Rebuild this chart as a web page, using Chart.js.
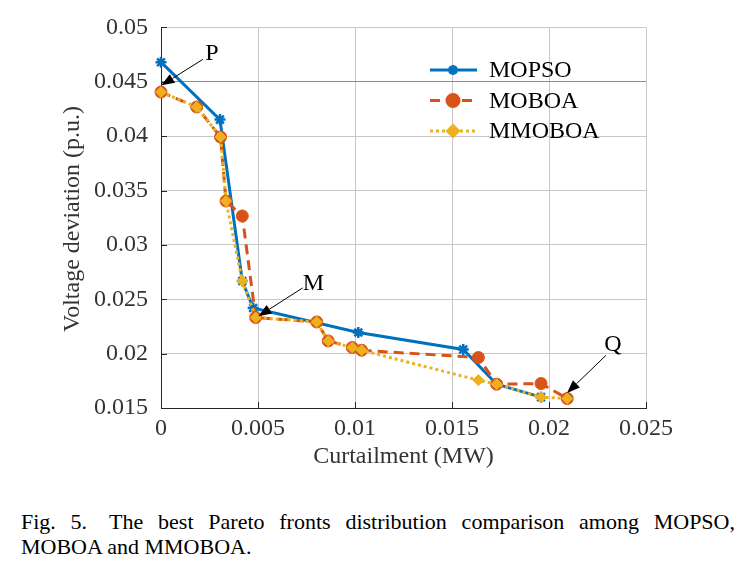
<!DOCTYPE html>
<html>
<head>
<meta charset="utf-8">
<script src="https://cdn.jsdelivr.net/npm/chart.js@4.4.0/dist/chart.umd.min.js"></script>
<style>
  html, body { margin: 0; padding: 0; background: #fff; }
  #wrap { position: relative; width: 745px; height: 480px; }
  #caption {
    position: absolute; left: 21px; top: 509px; width: 714px;
    font-family: 'Liberation Serif', 'Times New Roman', serif;
    font-size: 22px; line-height: 25px; color: #000;
  }
  #caption .l1 { text-align: justify; text-align-last: justify; white-space: nowrap; }
</style>
</head>
<body>
<div id="wrap"><canvas id="paretoChart"></canvas></div>
<div id="caption">
  <div class="l1">Fig. 5.&emsp;The best Pareto fronts distribution comparison among MOPSO,</div>
  <div>MOBOA and MMOBOA.</div>
</div>
<script>
// Axis ticks
const xTicks = [0, 0.005, 0.01, 0.015, 0.02, 0.025];
const yTicks = [0.015, 0.02, 0.025, 0.03, 0.035, 0.04, 0.045, 0.05];

// Pareto fronts (curtailment MW, voltage deviation p.u.)
const mopsoX = [0, 0.00304, 0.00419, 0.00475, 0.01017, 0.01558, 0.0173, 0.01959];
const mopsoY = [0.0468, 0.04152, 0.02668, 0.0242, 0.02194, 0.02038, 0.01719, 0.0160];

const moboaX = [0, 0.00184, 0.00307, 0.00335, 0.00419, 0.00488, 0.00803, 0.00862, 0.00986, 0.01034, 0.01636, 0.0173, 0.01959, 0.02094];
const moboaY = [0.04405, 0.04268, 0.03992, 0.03403, 0.03266, 0.02332, 0.02291, 0.02117, 0.02056, 0.02031, 0.01964, 0.01719, 0.01725, 0.01587];

const mmoboaX = [0, 0.00184, 0.00307, 0.00335, 0.00419, 0.00488, 0.00803, 0.00862, 0.00986, 0.01034, 0.01636, 0.0173, 0.01959, 0.02094];
const mmoboaY = [0.04405, 0.04268, 0.03992, 0.03403, 0.02668, 0.02332, 0.02291, 0.02117, 0.02056, 0.02031, 0.01756, 0.01719, 0.0160, 0.01587];

// Annotated points: label, text pos, arrow tail, arrow tip (data units)
const markLabels = ['P', 'M', 'Q'];
const markText = [[0.00263, 0.04761], [0.00786, 0.02647], [0.0233, 0.02086]];
const markTail = [[0.00216, 0.04706], [0.0073, 0.02604], [0.02294, 0.01985]];
const markTip = [[0.00002, 0.04467], [0.00502, 0.02344], [0.02093, 0.01639]];

const SERIF = "'Liberation Serif', 'Times New Roman', serif";
const BLUE = '#0072BD', RED = '#D95319', GOLD = '#EDB120';
const AXIS = '#333333';

const toPoints = (xs, ys) => xs.map((x, i) => ({ x: x, y: ys[i] }));
const fmt = v => String(Number(v.toFixed(3)));

const legendItems = [
    { text: 'MOPSO', color: BLUE, dash: [], style: 'star', radius: 5, bw: 2.5 },
    { text: 'MOBOA', color: RED, dash: [10, 6], style: 'circle', radius: 6, bw: 1 },
    { text: 'MMOBOA', color: GOLD, dash: [3, 3], style: 'rectRot', radius: 5.5, bw: 1 }
];

function drawArrow(ctx, x1, y1, x2, y2) {
    const ang = Math.atan2(y2 - y1, x2 - x1);
    const len = 13, half = 5;
    const bx = x2 - len * Math.cos(ang), by = y2 - len * Math.sin(ang);
    ctx.beginPath();
    ctx.moveTo(x1, y1);
    ctx.lineTo(bx, by);
    ctx.stroke();
    ctx.beginPath();
    ctx.moveTo(x2, y2);
    ctx.lineTo(bx + half * Math.sin(ang), by - half * Math.cos(ang));
    ctx.lineTo(bx - half * Math.sin(ang), by + half * Math.cos(ang));
    ctx.closePath();
    ctx.fill();
}

const paperDecor = {
    id: 'paperDecor',
    afterDatasetsDraw(chart) {
        const ctx = chart.ctx;
        const xs = chart.scales.x, ys = chart.scales.y;
        const a = chart.chartArea;
        ctx.save();

        // inward tick marks
        ctx.strokeStyle = '#262626';
        ctx.lineWidth = 1;
        ctx.beginPath();
        yTicks.forEach(v => {
            const py = Math.round(ys.getPixelForValue(v)) + 0.5;
            ctx.moveTo(a.left, py);
            ctx.lineTo(a.left + 6, py);
        });
        xTicks.forEach(v => {
            const px = Math.round(xs.getPixelForValue(v)) + 0.5;
            ctx.moveTo(px, a.bottom);
            ctx.lineTo(px, a.bottom - 6);
        });
        ctx.stroke();

        // axis titles
        ctx.fillStyle = AXIS;
        ctx.font = '24px ' + SERIF;
        ctx.textAlign = 'center';
        ctx.textBaseline = 'middle';
        ctx.fillText('Curtailment (MW)', (a.left + a.right) / 2, 457);
        ctx.save();
        ctx.translate(73, 219);
        ctx.rotate(-Math.PI / 2);
        ctx.fillText('Voltage deviation (p.u.)', 0, 0);
        ctx.restore();

        // annotations
        ctx.fillStyle = '#000';
        ctx.strokeStyle = '#000';
        ctx.lineWidth = 1;
        markLabels.forEach((lab, i) => {
            ctx.fillText(lab, xs.getPixelForValue(markText[i][0]), ys.getPixelForValue(markText[i][1]));
            drawArrow(ctx,
                xs.getPixelForValue(markTail[i][0]), ys.getPixelForValue(markTail[i][1]),
                xs.getPixelForValue(markTip[i][0]), ys.getPixelForValue(markTip[i][1]));
        });

        // legend inside the axes
        ctx.textAlign = 'left';
        legendItems.forEach((it, i) => {
            const y = 70 + i * 30.5;
            ctx.strokeStyle = it.color;
            ctx.fillStyle = it.color;
            ctx.lineWidth = 3;
            ctx.setLineDash(it.dash);
            ctx.beginPath();
            ctx.moveTo(430, y);
            ctx.lineTo(477, y);
            ctx.stroke();
            ctx.setLineDash([]);
            Chart.helpers.drawPoint(ctx, { pointStyle: it.style, radius: it.radius, borderWidth: it.bw, rotation: 0 }, 453, y);
            ctx.fillStyle = '#000';
            ctx.fillText(it.text, 489, y + 1);
        });
        ctx.restore();
    }
};

const ctx = document.getElementById('paretoChart').getContext('2d');
new Chart(ctx, {
    type: 'line',
    data: {
        datasets: [
            {
                label: 'MOPSO',
                data: toPoints(mopsoX, mopsoY),
                borderColor: BLUE, backgroundColor: BLUE,
                borderWidth: 3, pointStyle: 'star', pointRadius: 5.5, pointBorderWidth: 2.5,
                order: 3, clip: false
            },
            {
                label: 'MOBOA',
                data: toPoints(moboaX, moboaY),
                borderColor: RED, backgroundColor: RED,
                borderWidth: 3, borderDash: [10, 6], pointStyle: 'circle', pointRadius: 6, pointBorderWidth: 1,
                order: 2, clip: false
            },
            {
                label: 'MMOBOA',
                data: toPoints(mmoboaX, mmoboaY),
                borderColor: GOLD, backgroundColor: GOLD,
                borderWidth: 3, borderDash: [3, 3], pointStyle: 'rectRot', pointRadius: 5.5, pointBorderWidth: 1,
                order: 1, clip: false
            }
        ]
    },
    options: {
        responsive: true,
        maintainAspectRatio: false,
        animation: false,
        layout: { padding: { top: 27, right: 99, left: 0, bottom: 0 } },
        plugins: { legend: { display: false }, tooltip: { enabled: false } },
        elements: { line: { tension: 0 } },
        scales: {
            x: {
                type: 'linear', min: 0, max: 0.025,
                afterBuildTicks: s => { s.ticks = xTicks.map(v => ({ value: v })); },
                afterFit: s => { s.height = 72; },
                ticks: { callback: v => fmt(v), color: AXIS, font: { family: SERIF, size: 24 }, padding: 6, maxRotation: 0 },
                grid: { color: '#c8c8c8', drawTicks: false },
                border: { color: '#262626', width: 1 }
            },
            y: {
                type: 'linear', min: 0.015, max: 0.05,
                afterBuildTicks: s => { s.ticks = yTicks.map(v => ({ value: v })); },
                afterFit: s => { s.width = 161; },
                ticks: { callback: v => fmt(v), color: AXIS, font: { family: SERIF, size: 24 }, padding: 13 },
                grid: {
                    color: c => (c.tick && Math.abs(c.tick.value - 0.045) < 1e-9) ? '#8c8c8c' : '#c8c8c8',
                    drawTicks: false
                },
                border: { color: '#262626', width: 1 }
            }
        }
    },
    plugins: [paperDecor]
});
</script>
</body>
</html>
